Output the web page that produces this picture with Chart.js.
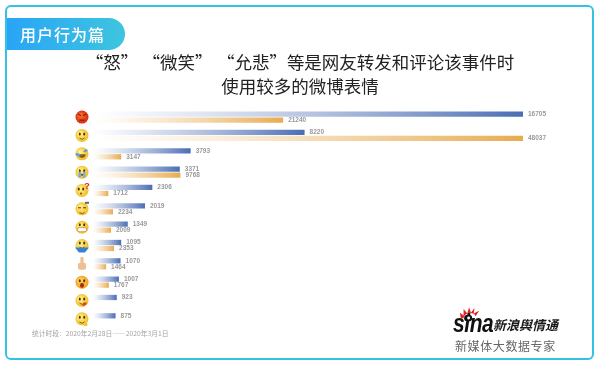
<!DOCTYPE html>
<html lang="zh-CN">
<head>
<meta charset="utf-8">
<script src="https://cdn.jsdelivr.net/npm/chart.js@4"></script>
<style>
  html, body { margin: 0; padding: 0; background: #fff; }
  #page { position: relative; width: 600px; height: 365px; overflow: hidden; font-family: "Noto Sans CJK SC", sans-serif; }
  #frame { position: absolute; left: 5px; top: 5px; width: 585px; height: 351px; border: 2px solid #35c1e3; border-radius: 6px; }
  #badge { position: absolute; left: 7px; top: 18px; width: 118px; height: 32px; border-radius: 0 16px 16px 0;
    background: linear-gradient(90deg, #28a5f6, #3ec5df); color: #fff; font-size: 16px; font-weight: 500; line-height: 32px; text-indent: 13px; letter-spacing: 1px; }
  #note { position: absolute; left: 32px; top: 328px; font-size: 6.75px; line-height: 10px; color: #a3a3a3; white-space: nowrap; }
  #logo-sina { position: absolute; left: 453px; top: 308px; font: italic bold 25px/30px "Liberation Sans", sans-serif; color: #111; letter-spacing: -0.5px; transform: scaleX(0.84); transform-origin: left center; }
  #logo-name { position: absolute; left: 493px; top: 316px; font-size: 13px; line-height: 18px; font-weight: 700; font-style: italic; color: #1a1a1a; white-space: nowrap; }
  #logo-sub { position: absolute; left: 455px; top: 338px; font-size: 12px; line-height: 16px; color: #666; letter-spacing: 0.6px; white-space: nowrap; }
  #flame { position: absolute; left: 459px; top: 306px; }
  canvas { position: absolute; left: 0; top: 0; }
</style>
</head>
<body>
<div id="page">
  <canvas id="emojiChart" width="600" height="365"></canvas>
  <div id="frame"></div>
  <div id="badge">用户行为篇</div>
  <div id="note">统计时段：2020年2月28日——2020年3月1日</div>
  <div id="logo-sina">sina</div>
  <svg id="flame" width="22" height="17" viewBox="0 0 24 18">
    <path fill="#e0211c" d="M2 13 L1 7 L5 10 L5 3 L9 8 L11 1 L13 7 L17 2 L16 8 L22 5 L18 11 C17 6 6 6 5 13 Z"/>
    <ellipse cx="10" cy="13" rx="4.4" ry="3.6" fill="#111"/>
    <circle cx="10.5" cy="12.8" r="1.6" fill="#fff"/>
  </svg>
  <div id="logo-name">新浪舆情通</div>
  <div id="logo-sub">新媒体大数据专家</div>
</div>

<script>
// ----------------------------------------------------------------
// Data
// ----------------------------------------------------------------
const categories = ['怒', '微笑', '允悲', '泪', '疑问', '困', '呲牙', '抱抱', '赞', '吃惊', '馋嘴', '思考'];
const repostValues = [16705, 8220, 3793, 3371, 2306, 2019, 1349, 1095, 1070, 1007, 923, 875];
const commentValues = [21240, 48037, 3147, 9768, 1712, 2234, 2009, 2353, 1464, 1767, null, null];
const titleLines = ['“怒”\u2005“微笑”\u2005“允悲”等是网友转发和评论该事件时', '使用较多的微博表情'];

// each series runs on its own hidden scale, the longest bar of each reaches the same end
const repostMax = 16705;
const commentMax = 48037;

// bar fades from white at the base into the series colour at its tip
function fade(context, scaleId, colour) {
  const chart = context.chart;
  const scale = chart.scales[scaleId];
  if (!scale || !chart.chartArea || context.raw == null) return colour;
  const start = scale.getPixelForValue(0);
  const end = scale.getPixelForValue(context.raw);
  const g = chart.ctx.createLinearGradient(start, 0, end, 0);
  g.addColorStop(0, 'rgba(255,255,255,0.6)');
  g.addColorStop(1, colour);
  return g;
}

// ----------------------------------------------------------------
// Small hand drawn faces for the left column
// ----------------------------------------------------------------
function face(ctx, x, y, inner, outer) {
  const g = ctx.createRadialGradient(x - 2, y - 2, 1, x, y, 7);
  g.addColorStop(0, inner);
  g.addColorStop(1, outer);
  ctx.fillStyle = g;
  ctx.beginPath();
  ctx.arc(x, y, 6.5, 0, Math.PI * 2);
  ctx.fill();
}

function eyes(ctx, x, y, colour) {
  ctx.fillStyle = colour || '#4a3208';
  ctx.beginPath();
  ctx.ellipse(x - 2.2, y - 1.5, 1, 1.5, 0, 0, Math.PI * 2);
  ctx.ellipse(x + 2.2, y - 1.5, 1, 1.5, 0, 0, Math.PI * 2);
  ctx.fill();
}

function smile(ctx, x, y, colour) {
  ctx.strokeStyle = colour || '#8a5a10';
  ctx.lineWidth = 1;
  ctx.beginPath();
  ctx.arc(x, y + 0.5, 3.2, 0.2 * Math.PI, 0.8 * Math.PI);
  ctx.stroke();
}

function drawIcon(ctx, name, x, y) {
  ctx.save();
  if (name === '赞') {
    // thumb up
    ctx.fillStyle = '#eec08f';
    ctx.beginPath();
    ctx.roundRect(x - 4, y - 1, 8, 7, 2);
    ctx.fill();
    ctx.beginPath();
    ctx.roundRect(x - 1.6, y - 7, 3.2, 8, 1.5);
    ctx.fill();
  } else if (name === '怒') {
    face(ctx, x, y, '#f4702a', '#d62412');
    ctx.strokeStyle = '#6b1206';
    ctx.lineWidth = 1;
    ctx.beginPath();
    ctx.moveTo(x - 4, y - 3); ctx.lineTo(x - 1, y - 1.5);
    ctx.moveTo(x + 4, y - 3); ctx.lineTo(x + 1, y - 1.5);
    ctx.moveTo(x - 2.5, y + 3); ctx.lineTo(x + 2.5, y + 3);
    ctx.stroke();
  } else if (name === '吃惊') {
    face(ctx, x, y, '#ffd45e', '#f39a1e');
    eyes(ctx, x, y);
    ctx.fillStyle = '#a0301a';
    ctx.beginPath();
    ctx.ellipse(x, y + 3, 2, 2.5, 0, 0, Math.PI * 2);
    ctx.fill();
  } else {
    face(ctx, x, y, '#fff08a', '#f2b91f');
    if (name === '允悲') {
      ctx.fillStyle = '#8a5a20';
      ctx.beginPath();
      ctx.arc(x, y + 0.5, 3.6, 0, Math.PI);
      ctx.fill();
      ctx.fillStyle = '#5a9ee0';
      ctx.beginPath();
      ctx.ellipse(x - 4, y + 1, 2.6, 1.5, 0.4, 0, Math.PI * 2);
      ctx.ellipse(x + 3.5, y - 3, 2.2, 1.2, -0.4, 0, Math.PI * 2);
      ctx.fill();
    } else if (name === '泪') {
      eyes(ctx, x, y);
      ctx.fillStyle = '#6aaee8';
      ctx.fillRect(x - 3.4, y - 0.5, 2.2, 6);
      ctx.fillRect(x + 1.2, y - 0.5, 2.2, 6);
      ctx.fillStyle = '#7a4a12';
      ctx.beginPath();
      ctx.ellipse(x, y + 2.5, 1.2, 1, 0, 0, Math.PI * 2);
      ctx.fill();
    } else if (name === '疑问') {
      eyes(ctx, x - 1, y);
      ctx.fillStyle = '#7a4a12';
      ctx.beginPath();
      ctx.arc(x - 1, y + 3, 1, 0, Math.PI * 2);
      ctx.fill();
      ctx.fillStyle = '#d8291c';
      ctx.font = 'bold 9px "Liberation Sans"';
      ctx.textAlign = 'center';
      ctx.fillText('?', x + 5, y - 1);
    } else if (name === '困') {
      ctx.strokeStyle = '#4a3208';
      ctx.lineWidth = 1;
      ctx.beginPath();
      ctx.moveTo(x - 4, y - 1); ctx.lineTo(x - 1, y - 1);
      ctx.moveTo(x + 1, y - 1); ctx.lineTo(x + 4, y - 1);
      ctx.stroke();
      smile(ctx, x, y + 1);
      ctx.fillStyle = '#667';
      ctx.fillRect(x + 3, y - 7, 4, 2);
    } else if (name === '呲牙') {
      eyes(ctx, x, y - 1);
      ctx.fillStyle = '#fff';
      ctx.strokeStyle = '#b0782a';
      ctx.lineWidth = 0.6;
      ctx.beginPath();
      ctx.roundRect(x - 4.5, y + 0.5, 9, 4, 1.5);
      ctx.fill();
      ctx.stroke();
    } else if (name === '抱抱') {
      eyes(ctx, x, y - 1);
      smile(ctx, x, y - 1);
      ctx.fillStyle = '#3a7fd0';
      ctx.beginPath();
      ctx.moveTo(x - 7, y + 2); ctx.lineTo(x + 7, y + 2); ctx.lineTo(x + 3, y + 7); ctx.lineTo(x - 3, y + 7);
      ctx.closePath();
      ctx.fill();
    } else if (name === '馋嘴') {
      eyes(ctx, x, y);
      smile(ctx, x, y);
      ctx.fillStyle = '#d8442a';
      ctx.beginPath();
      ctx.ellipse(x + 2.5, y + 3.5, 2.4, 1.4, -0.5, 0, Math.PI * 2);
      ctx.fill();
    } else if (name === '思考') {
      eyes(ctx, x, y);
      smile(ctx, x, y + 0.5);
      ctx.fillStyle = '#f7c435';
      ctx.beginPath();
      ctx.arc(x + 3.5, y + 5.5, 2, 0, Math.PI * 2);
      ctx.fill();
    } else {
      eyes(ctx, x, y);
      smile(ctx, x, y);
    }
  }
  ctx.restore();
}

const emojiColumn = {
  id: 'emojiColumn',
  afterDatasetsDraw(chart) {
    categories.forEach(function(name, i) {
      drawIcon(chart.ctx, name, 82, chart.scales.y.getPixelForValue(i));
    });
  }
};

// number just past the end of every bar
const barValues = {
  id: 'barValues',
  afterDatasetsDraw(chart) {
    const ctx = chart.ctx;
    ctx.save();
    ctx.font = 'bold 6.5px "Liberation Sans", sans-serif';
    ctx.fillStyle = '#9a9a9a';
    ctx.textBaseline = 'middle';
    chart.data.datasets.forEach(function(ds, d) {
      chart.getDatasetMeta(d).data.forEach(function(bar, i) {
        if (ds.data[i] == null) return;
        ctx.fillText(ds.data[i], bar.x + 5, bar.y);
      });
    });
    ctx.restore();
  }
};

new Chart(document.getElementById('emojiChart'), {
  type: 'bar',
  data: {
    labels: categories,
    datasets: [{
      label: '转发',
      xAxisID: 'x',
      data: repostValues,
      backgroundColor: function(c) { return fade(c, 'x', '#4a6db5'); },
      categoryPercentage: 0.656,
      barPercentage: 0.88
    }, {
      label: '评论',
      xAxisID: 'x2',
      data: commentValues,
      backgroundColor: function(c) { return fade(c, 'x2', '#e8ab50'); },
      categoryPercentage: 0.656,
      barPercentage: 0.88
    }]
  },
  options: {
    indexAxis: 'y',
    responsive: false,
    animation: false,
    // equal side padding keeps the title on the page centre, the y axis takes the rest of the left gap
    layout: { padding: { left: 77, right: 77, top: 0, bottom: 37 } },
    scales: {
      x: { display: false, min: 0, max: repostMax },
      x2: { display: false, min: 0, max: commentMax, position: 'top' },
      y: {
        grid: { display: false },
        border: { display: false },
        ticks: { display: false },
        afterFit(axis) { axis.width = 16; }
      }
    },
    plugins: {
      legend: { display: false },
      tooltip: { enabled: false },
      title: {
        display: true,
        text: titleLines,
        color: '#222',
        font: { family: '"Noto Sans CJK SC", sans-serif', size: 17.5, weight: '400', lineHeight: 1.37 },
        padding: { top: 50, bottom: 10 }
      }
    }
  },
  plugins: [emojiColumn, barValues]
});
</script>
</body>
</html>
